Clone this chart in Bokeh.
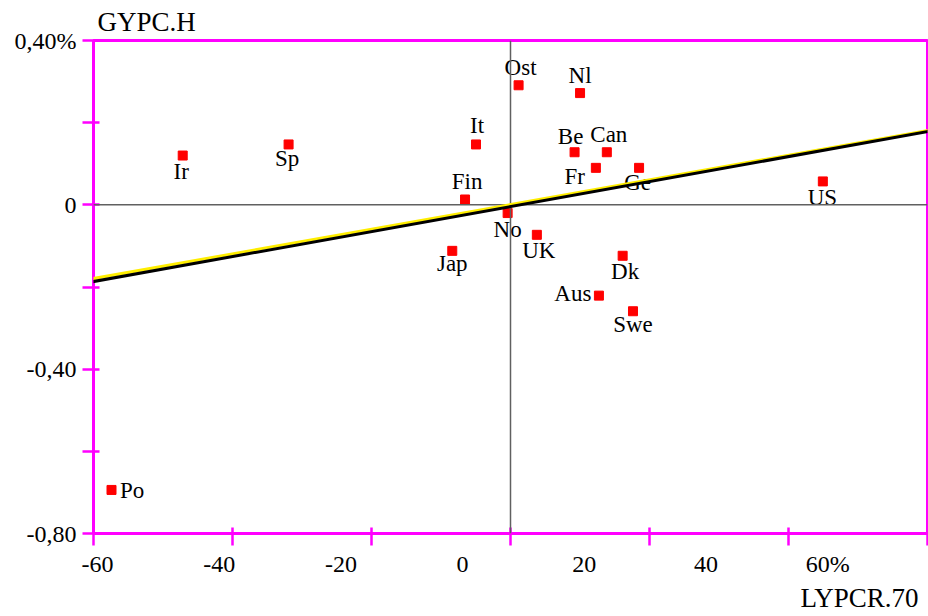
import numpy as np
from bokeh.plotting import figure
from bokeh.models import (ColumnDataSource, FixedTicker, Span, Slope, Title)
from bokeh.core.properties import value
from bokeh.embed import file_html
from bokeh.resources import INLINE

# ---- data ----
countries = ["Ost", "Nl", "It", "Be", "Can", "Fr", "Ge", "Fin", "No", "UK",
             "Jap", "Dk", "Aus", "Swe", "Ir", "Sp", "US", "Po"]
lypcr70 = [9.2, 19.3, 2.2, 18.4, 23.7, 21.9, 29.0, 0.4, 7.4, 12.2,
           -1.7, 26.3, 22.4, 28.0, -46.0, -28.6, 59.2, -57.7]
gypch = [0.291, 0.272, 0.147, 0.128, 0.128, 0.090, 0.090, 0.013, -0.020, -0.073,
         -0.112, -0.124, -0.221, -0.259, 0.120, 0.147, 0.057, -0.694]

# fitted lines (gradient, intercept)
fit_black = (0.002662, -0.0252)
fit_yellow = (0.002627, -0.0201)

x_tick_values = [-60, -40, -20, 0, 20, 40, 60]
x_tick_labels = ["-60", "-40", "-20", "0", "20", "40", "60%"]
y_tick_values = [0.4, 0.0, -0.4, -0.8]
y_tick_labels = ["0,40%", "0", "-0,40", "-0,80"]
y_minor_values = [0.2, -0.2, -0.6]

x_title = "LYPCR.70"
y_title = "GYPC.H"

# ---- styling / placement ----
MAGENTA = "#FF00FF"
FONT = "Liberation Serif"
x_min, x_max = -60.66, 76.4
y_min, y_max = -0.8, 0.4

# label placement per country: (align, dx, dy) in screen px
placement = {
    "Ost": ("center", 2, -18), "Nl": ("center", 0, -18), "It": ("center", 1, -19),
    "Be": ("center", -4, -16), "Can": ("center", 2, -18), "Fin": ("center", 2, -18),
    "No": ("center", 0, 16), "UK": ("center", 2, 16), "Jap": ("center", 0, 13),
    "Dk": ("center", 2.5, 16), "Swe": ("center", 0, 13), "Ge": ("center", -1.5, 15),
    "Ir": ("center", -1.5, 16), "Sp": ("center", -1.5, 14.5), "US": ("center", -0.5, 16),
    "Aus": ("right", -7.5, -2.5), "Fr": ("right", -11, 8.5), "Po": ("left", 8.5, 0.5),
}

p = figure(width=928, height=616, output_backend="svg", toolbar_location=None,
           x_range=(x_min, x_max), y_range=(y_min, y_max),
           min_border_left=93, min_border_right=1, min_border_top=38, min_border_bottom=83)
p.background_fill_color = "white"
p.border_fill_color = "white"
p.grid.visible = False
p.outline_line_color = MAGENTA
p.outline_line_width = 3

# zero lines
p.add_layout(Span(location=0, dimension="width", line_color="#606060", line_width=1.5))
p.add_layout(Span(location=(x_min + x_max) / 2, dimension="height",
                  line_color="#606060", line_width=1.5))

# fitted lines
p.add_layout(Slope(gradient=fit_yellow[0], y_intercept=fit_yellow[1],
                   line_color="#FFEE00", line_width=3))
p.add_layout(Slope(gradient=fit_black[0], y_intercept=fit_black[1],
                   line_color="black", line_width=3))

src = ColumnDataSource(dict(x=lypcr70, y=gypch, name=countries))
p.scatter("x", "y", source=src, marker="square", size=9,
          fill_color="#FF0000", line_color="#FF0000")

for align in ("center", "right", "left"):
    idx = [i for i, c in enumerate(countries) if placement[c][0] == align]
    s = ColumnDataSource(dict(
        x=[lypcr70[i] for i in idx], y=[gypch[i] for i in idx],
        name=[countries[i] for i in idx],
        dx=[placement[countries[i]][1] for i in idx],
        dy=[placement[countries[i]][2] for i in idx]))
    p.text("x", "y", text="name", source=s, x_offset="dx", y_offset="dy",
           text_align=align, text_baseline="alphabetic",
           text_font=value(FONT), text_font_size="23px", text_color="black")

# axes
xa = p.xaxis[0]
xa.ticker = FixedTicker(ticks=x_tick_values,
                        minor_ticks=list(np.linspace(x_min, x_max, 7)))
xa.major_label_overrides = dict(zip(x_tick_values, x_tick_labels))
xa.major_tick_line_color = None
xa.major_tick_in = 0
xa.major_tick_out = 12
xa.minor_tick_line_color = MAGENTA
xa.minor_tick_line_width = 2.5
xa.minor_tick_in = 6
xa.minor_tick_out = 12
xa.axis_line_color = MAGENTA
xa.axis_line_width = 3
xa.major_label_text_font = FONT
xa.major_label_text_font_size = "24px"
xa.major_label_text_color = "black"
xa.major_label_standoff = 5

ya = p.yaxis[0]
ya.ticker = FixedTicker(ticks=y_tick_values, minor_ticks=y_minor_values)
ya.major_label_overrides = dict(zip(y_tick_values, y_tick_labels))
ya.major_tick_line_color = MAGENTA
ya.major_tick_line_width = 2.5
ya.major_tick_in = 6
ya.major_tick_out = 11
ya.minor_tick_line_color = MAGENTA
ya.minor_tick_line_width = 2.5
ya.minor_tick_in = 6
ya.minor_tick_out = 11
ya.axis_line_color = MAGENTA
ya.axis_line_width = 3
ya.major_label_text_font = FONT
ya.major_label_text_font_size = "24px"
ya.major_label_text_color = "black"
ya.major_label_standoff = 6

p.title.text = y_title
p.title.align = "left"
p.title.offset = 4
p.title.standoff = 8
p.title.text_font = FONT
p.title.text_font_size = "27px"
p.title.text_font_style = "normal"
p.title.text_color = "black"

p.add_layout(Title(text=x_title, align="right", offset=9, standoff=2,
                   text_font=FONT, text_font_size="27px", text_font_style="normal",
                   text_color="black"), "below")

open("out.html", "w").write(file_html(p, INLINE))
